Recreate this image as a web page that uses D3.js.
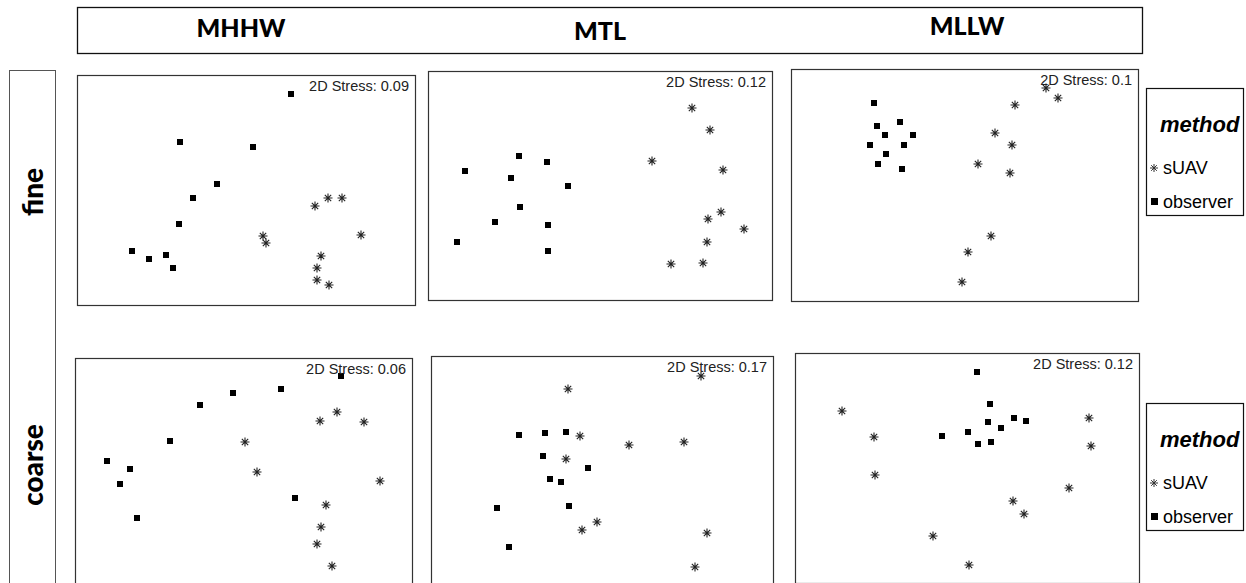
<!DOCTYPE html>
<html>
<head>
<meta charset="utf-8">
<script src="https://cdn.jsdelivr.net/npm/d3@7"></script>
<style>
  body { margin: 0; background: #fff; }
  svg { display: block; }
</style>
</head>
<body>
<div id="chart"></div>
<script>
// tide levels (columns) and resolution (rows)
var levels = ["MHHW", "MTL", "MLLW"];
var resolutions = ["fine", "coarse"];
var methods = ["sUAV", "observer"];
var stress = [0.09, 0.12, 0.1, 0.06, 0.17, 0.12];

// ordination scores per panel (NMDS1, NMDS2 in plot units)
var obsX = [
  [214,103,176,140,116,102,55,72,89,96],
  [91,119,37,83,140,92,67,120,29,120],
  [83,86,109,94,122,79,113,95,87,111],
  [266,206,158,125,95,32,55,45,62,220],
  [88,114,135,112,157,119,130,138,66,78],
  [182,195,193,219,231,206,173,147,183,196]
];
var obsY = [
  [19,67,72,109,123,149,176,184,180,193],
  [85,91,100,107,115,136,151,154,171,180],
  [34,57,53,66,66,76,76,85,95,100],
  [18,31,35,47,83,103,111,126,160,140],
  [79,77,76,100,112,123,126,150,152,191],
  [19,51,69,65,68,75,79,83,91,89]
];
var uavX = [
  [251,265,238,284,186,189,244,240,240,252],
  [264,282,224,295,293,280,316,279,243,275],
  [255,267,224,204,221,187,219,200,177,171],
  [262,245,289,170,182,305,251,246,242,257],
  [270,137,149,198,253,135,166,151,276,264],
  [47,79,80,294,296,274,218,229,138,174]
];
var uavY = [
  [123,123,131,160,161,168,181,193,205,210],
  [37,59,90,99,141,148,158,171,193,192],
  [19,29,36,64,76,95,104,167,183,213],
  [54,63,64,84,114,123,147,169,186,208],
  [20,33,80,89,86,103,166,174,177,211],
  [58,84,122,65,93,135,148,161,183,212]
];

var W = 1246, H = 583;
var svg = d3.select("#chart").append("svg")
  .attr("width", W)
  .attr("height", H);

// panel frames
var panels = [
  {x:77, y:75, w:338, h:230},
  {x:428, y:71, w:344, h:229},
  {x:791, y:69, w:347, h:232},
  {x:75, y:358, w:337, h:230},
  {x:431, y:356, w:342, h:230},
  {x:795, y:353, w:344, h:230}
];

// column header box
svg.append("rect")
  .attr("x", 77.5).attr("y", 7.5)
  .attr("width", 1065).attr("height", 46)
  .attr("fill", "none").attr("stroke", "#111").attr("stroke-width", 1.3);

var headX = [241, 600, 967], headY = [37, 40, 35];
svg.selectAll(".head")
  .data(levels)
  .enter().append("text")
  .attr("x", (d, i) => headX[i])
  .attr("y", (d, i) => headY[i])
  .attr("text-anchor", "middle")
  .style("font-family", "Lato, 'Open Sans', sans-serif")
  .style("font-weight", "900")
  .style("font-size", "25px")
  .text(d => d);

// row strip
svg.append("rect")
  .attr("x", 9.5).attr("y", 70.5)
  .attr("width", 46).attr("height", 530)
  .attr("fill", "none").attr("stroke", "#555").attr("stroke-width", 1);

var stripY = [192, 465];
svg.selectAll(".strip")
  .data(resolutions)
  .enter().append("text")
  .attr("transform", (d, i) => "translate(43," + stripY[i] + ") rotate(-90)")
  .attr("text-anchor", "middle")
  .style("font-family", "Lato, 'Open Sans', sans-serif")
  .style("font-weight", "900")
  .style("font-size", "28px")
  .text(d => d);

function asterisk(s) {
  var a = s * 0.707;
  return "M" + (-s) + ",0H" + s + "M0," + (-s) + "V" + s +
    "M" + (-a) + "," + (-a) + "L" + a + "," + a +
    "M" + (-a) + "," + a + "L" + a + "," + (-a);
}

panels.forEach(function(p, k) {
  var g = svg.append("g").attr("transform", "translate(" + p.x + "," + p.y + ")");
  var x = d3.scaleLinear().domain([0, p.w]).range([0, p.w]);
  var y = d3.scaleLinear().domain([0, p.h]).range([0, p.h]);

  g.append("rect")
    .attr("x", 0.5).attr("y", 0.5)
    .attr("width", p.w).attr("height", p.h)
    .attr("fill", "none").attr("stroke", "#333").attr("stroke-width", 1.2);

  g.selectAll(".obs")
    .data(d3.range(obsX[k].length))
    .enter().append("rect")
    .attr("x", i => x(obsX[k][i]) - 3)
    .attr("y", i => y(obsY[k][i]) - 3)
    .attr("width", 6).attr("height", 6)
    .attr("fill", "#000");

  g.selectAll(".uav")
    .data(d3.range(uavX[k].length))
    .enter().append("path")
    .attr("transform", i => "translate(" + x(uavX[k][i]) + "," + y(uavY[k][i]) + ")")
    .attr("d", asterisk(4.5))
    .attr("fill", "none")
    .attr("stroke", "#222")
    .attr("stroke-width", 1.1);

  g.append("text")
    .attr("x", p.w - 6)
    .attr("y", 16)
    .attr("text-anchor", "end")
    .style("font-family", "'Liberation Sans', Arial, sans-serif")
    .style("font-size", "14.5px")
    .attr("fill", "#222")
    .text("2D Stress: " + stress[k]);
});

// legends
var legendY = [88, 403];
legendY.forEach(function(ly) {
  var lg = svg.append("g").attr("transform", "translate(1146," + ly + ")");
  lg.append("rect")
    .attr("x", 0.5).attr("y", 0.5)
    .attr("width", 97).attr("height", 127)
    .attr("fill", "none").attr("stroke", "#111").attr("stroke-width", 1.2);
  lg.append("text")
    .attr("x", 14).attr("y", 44)
    .style("font-family", "'Liberation Sans', Arial, sans-serif")
    .style("font-weight", "bold").style("font-style", "italic")
    .style("font-size", "22px")
    .text("method");
  methods.forEach(function(m, i) {
    var yy = 86 + i * 34;
    if (m === "sUAV") {
      lg.append("path")
        .attr("transform", "translate(8," + (yy - 6) + ")")
        .attr("d", asterisk(4))
        .attr("fill", "none").attr("stroke", "#333").attr("stroke-width", 1);
    } else {
      lg.append("rect")
        .attr("x", 5).attr("y", yy - 10)
        .attr("width", 7).attr("height", 7)
        .attr("fill", "#000");
    }
    lg.append("text")
      .attr("x", 17).attr("y", yy)
      .style("font-family", "'Liberation Sans', Arial, sans-serif")
      .style("font-size", "18px")
      .text(m);
  });
});
</script>
</body>
</html>
